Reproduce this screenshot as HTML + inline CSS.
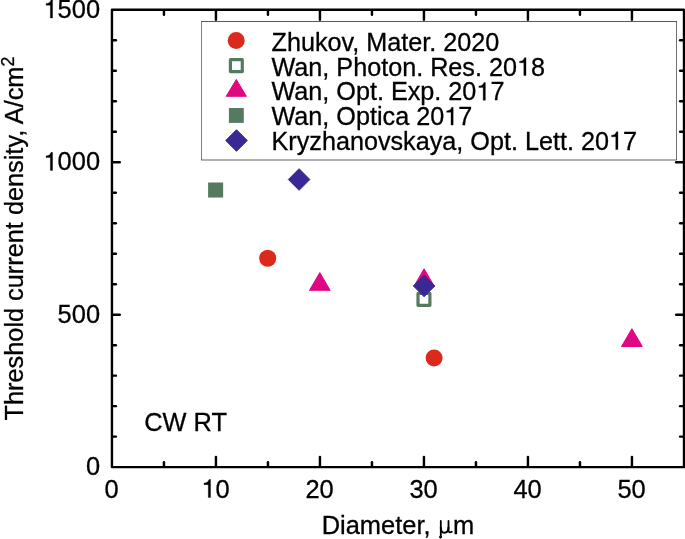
<!DOCTYPE html>
<html>
<head>
<meta charset="utf-8">
<title>Threshold current density vs diameter</title>
<style>
html,body{margin:0;padding:0;background:#fff;}
body{width:685px;height:539px;overflow:hidden;}
svg{display:block;will-change:transform;}
text{font-family:"Liberation Sans",sans-serif;font-size:25.2px;fill:#000;stroke:#000;stroke-width:0.3px;}
.tl text{font-size:25.45px;}
.h{fill:none;stroke:none;}
.ax{stroke:#000;stroke-width:2.4;fill:none;stroke-linejoin:round;}
.tk{stroke:#000;stroke-width:2.45;stroke-linecap:round;}
</style>
</head>
<body>
<svg width="685" height="539" viewBox="0 0 685 539">
<rect x="0" y="0" width="685" height="539" fill="#fff"/>

<!-- ticks -->
<g class="tk">
<line x1="163.95" y1="466.00" x2="163.95" y2="462.15"/>
<line x1="163.95" y1="10.90" x2="163.95" y2="14.75"/>
<line x1="215.95" y1="466.00" x2="215.95" y2="457.05"/>
<line x1="215.95" y1="10.90" x2="215.95" y2="19.85"/>
<line x1="267.95" y1="466.00" x2="267.95" y2="462.15"/>
<line x1="267.95" y1="10.90" x2="267.95" y2="14.75"/>
<line x1="319.95" y1="466.00" x2="319.95" y2="457.05"/>
<line x1="319.95" y1="10.90" x2="319.95" y2="19.85"/>
<line x1="371.95" y1="466.00" x2="371.95" y2="462.15"/>
<line x1="371.95" y1="10.90" x2="371.95" y2="14.75"/>
<line x1="423.95" y1="466.00" x2="423.95" y2="457.05"/>
<line x1="423.95" y1="10.90" x2="423.95" y2="19.85"/>
<line x1="475.95" y1="466.00" x2="475.95" y2="462.15"/>
<line x1="475.95" y1="10.90" x2="475.95" y2="14.75"/>
<line x1="527.95" y1="466.00" x2="527.95" y2="457.05"/>
<line x1="527.95" y1="10.90" x2="527.95" y2="19.85"/>
<line x1="579.95" y1="466.00" x2="579.95" y2="462.15"/>
<line x1="579.95" y1="10.90" x2="579.95" y2="14.75"/>
<line x1="631.95" y1="466.00" x2="631.95" y2="457.05"/>
<line x1="631.95" y1="10.90" x2="631.95" y2="19.85"/>
<line x1="113.05" y1="436.61" x2="115.85" y2="436.61"/>
<line x1="682.90" y1="436.61" x2="680.10" y2="436.61"/>
<line x1="113.05" y1="406.13" x2="115.85" y2="406.13"/>
<line x1="682.90" y1="406.13" x2="680.10" y2="406.13"/>
<line x1="113.05" y1="375.64" x2="115.85" y2="375.64"/>
<line x1="682.90" y1="375.64" x2="680.10" y2="375.64"/>
<line x1="113.05" y1="345.15" x2="115.85" y2="345.15"/>
<line x1="682.90" y1="345.15" x2="680.10" y2="345.15"/>
<line x1="113.05" y1="314.67" x2="119.75" y2="314.67"/>
<line x1="682.90" y1="314.67" x2="676.20" y2="314.67"/>
<line x1="113.05" y1="284.18" x2="115.85" y2="284.18"/>
<line x1="682.90" y1="284.18" x2="680.10" y2="284.18"/>
<line x1="113.05" y1="253.69" x2="115.85" y2="253.69"/>
<line x1="682.90" y1="253.69" x2="680.10" y2="253.69"/>
<line x1="113.05" y1="223.21" x2="115.85" y2="223.21"/>
<line x1="682.90" y1="223.21" x2="680.10" y2="223.21"/>
<line x1="113.05" y1="192.72" x2="115.85" y2="192.72"/>
<line x1="682.90" y1="192.72" x2="680.10" y2="192.72"/>
<line x1="113.05" y1="162.23" x2="119.75" y2="162.23"/>
<line x1="682.90" y1="162.23" x2="676.20" y2="162.23"/>
<line x1="113.05" y1="131.75" x2="115.85" y2="131.75"/>
<line x1="682.90" y1="131.75" x2="680.10" y2="131.75"/>
<line x1="113.05" y1="101.26" x2="115.85" y2="101.26"/>
<line x1="682.90" y1="101.26" x2="680.10" y2="101.26"/>
<line x1="113.05" y1="70.77" x2="115.85" y2="70.77"/>
<line x1="682.90" y1="70.77" x2="680.10" y2="70.77"/>
<line x1="113.05" y1="40.29" x2="115.85" y2="40.29"/>
<line x1="682.90" y1="40.29" x2="680.10" y2="40.29"/>
</g>

<!-- axes frame -->
<rect class="ax" x="111.95" y="9.8" width="572.05" height="457.3"/>

<!-- y tick labels -->
<g class="tl" text-anchor="end">
<text x="100.05" y="18"><tspan class="h">1</tspan>500</text>
<text x="100.05" y="170.4"><tspan class="h">1</tspan>000</text>
<text x="100.05" y="323">500</text>
<text x="100.05" y="475.2">0</text>
</g>
<!-- x tick labels -->
<g class="tl" text-anchor="middle">
<text x="111.55" y="497.5">0</text>
<text x="215.55" y="497.5"><tspan class="h">1</tspan>0</text>
<text x="319.55" y="497.5">20</text>
<text x="423.55" y="497.5">30</text>
<text x="527.55" y="497.5">40</text>
<text x="631.55" y="497.5">50</text>
</g>

<g id="ones-ticks">
<path d="M359 0 L271 0 L271 505 L102 505 L102 568 C226 584 246 601 301 709 L359 709 Z" transform="translate(43.44,18) scale(0.02545,-0.02545)" fill="#000" stroke="#000" stroke-width="12"/>
<path d="M359 0 L271 0 L271 505 L102 505 L102 568 C226 584 246 601 301 709 L359 709 Z" transform="translate(43.44,170.4) scale(0.02545,-0.02545)" fill="#000" stroke="#000" stroke-width="12"/>
<path d="M359 0 L271 0 L271 505 L102 505 L102 568 C226 584 246 601 301 709 L359 709 Z" transform="translate(201.4,497.5) scale(0.02545,-0.02545)" fill="#000" stroke="#000" stroke-width="12"/>
</g>
<!-- axis titles -->
<text x="321.7" y="533.5" style="font-size:25.45px">Diameter,</text>
<g fill="none" stroke="#000" stroke-linecap="round" stroke-linejoin="round">
<path d="M440.8 520.9 L440.8 536.2" stroke-width="1.8"/>
<path d="M440.8 527.5 C440.8 531.6 442.2 532.7 444.2 532.7 C446.4 532.7 448.5 531.2 448.5 527.5" stroke-width="2"/>
<path d="M448.5 520.9 L448.5 530.2 C448.5 532.3 450 532.9 451.8 531.7" stroke-width="1.8"/>
<ellipse cx="440.5" cy="537" rx="0.9" ry="1.3" fill="#000" stroke-width="0.8"/>
</g>
<text x="453" y="533.5" style="font-size:25.45px">m</text>
<text transform="translate(23.1,420.4) rotate(-90)" style="font-size:25.3px">Threshold current density, A/cm<tspan font-size="17.8" dy="-9.2">2</tspan></text>

<text x="144.2" y="431.2" style="font-size:25.4px">CW RT</text>

<!-- data points -->
<g>
<rect x="208.1" y="182.5" width="15.05" height="15.05" fill="#557a60"/>
<circle cx="267.7" cy="258.2" r="8.55" fill="#db291b"/>
<circle cx="434.1" cy="357.9" r="8.5" fill="#db291b"/>
<rect x="418" y="293.4" width="11.9" height="11.9" fill="none" stroke="#557a60" stroke-width="3.2" stroke-linejoin="round"/>
<g fill="#df0782" stroke="#df0782" stroke-width="1" stroke-linejoin="round">
<polygon points="319.8,272.6 330.1,290.3 309.5,290.3"/>
<polygon points="424.1,268.8 434.4,286.5 413.8,286.5"/>
<polygon points="631.9,328.7 642.3,346.5 621.5,346.5"/>
</g>
<g fill="#3a2995" stroke="#3a2995" stroke-width="1" stroke-linejoin="round">
<polygon points="299.1,168.7 309.9,179.5 299.1,190.3 288.3,179.5"/>
<polygon points="424.1,275.3 434.8,286 424.1,296.7 413.4,286"/>
</g>
</g>

<!-- legend -->
<rect x="201.5" y="21.5" width="475" height="138.5" fill="#fff"/>
<g stroke="#000" fill="none">
<path d="M201.2 21.5 L676.8 21.5" stroke-width="0.65"/>
<path d="M201.2 160 L676.8 160" stroke-width="0.62"/>
<path d="M201.5 21.5 L201.5 160" stroke-width="0.5"/>
<path d="M676.5 21.5 L676.5 160" stroke-width="0.56"/>
</g>
<circle cx="236.2" cy="40.5" r="8.5" fill="#db291b"/>
<rect x="230.4" y="59.7" width="11.9" height="11.9" fill="none" stroke="#557a60" stroke-width="3.2" stroke-linejoin="round"/>
<polygon points="236.3,79.5 246.4,96.3 226.2,96.3" fill="#df0782" stroke="#df0782" stroke-width="1" stroke-linejoin="round"/>
<rect x="228.9" y="108" width="14.9" height="14.9" fill="#557a60"/>
<polygon points="236.5,129.7 247.3,140.5 236.5,151.3 225.7,140.5" fill="#3a2995" stroke="#3a2995" stroke-width="1" stroke-linejoin="round"/>
<text x="271.5" y="50.7">Zhukov, Mater. 2020</text>
<text x="271.5" y="75.5">Wan, Photon. Res. 20<tspan class="h">1</tspan>8</text>
<text x="271.5" y="100.3">Wan, Opt. Exp. 20<tspan class="h">1</tspan>7</text>
<text x="271.5" y="125.1">Wan, Optica 20<tspan class="h">1</tspan>7</text>
<text x="271.5" y="149.6">Kryzhanovskaya, Opt. Lett. 20<tspan class="h">1</tspan>7</text>
<g id="ones-legend">
<path d="M359 0 L271 0 L271 505 L102 505 L102 568 C226 584 246 601 301 709 L359 709 Z" transform="translate(516.97,75.5) scale(0.0252,-0.0252)" fill="#000" stroke="#000" stroke-width="12"/>
<path d="M359 0 L271 0 L271 505 L102 505 L102 568 C226 584 246 601 301 709 L359 709 Z" transform="translate(476.34,100.3) scale(0.0252,-0.0252)" fill="#000" stroke="#000" stroke-width="12"/>
<path d="M359 0 L271 0 L271 505 L102 505 L102 568 C226 584 246 601 301 709 L359 709 Z" transform="translate(444.16,125.1) scale(0.0252,-0.0252)" fill="#000" stroke="#000" stroke-width="12"/>
<path d="M359 0 L271 0 L271 505 L102 505 L102 568 C226 584 246 601 301 709 L359 709 Z" transform="translate(608.91,149.6) scale(0.0252,-0.0252)" fill="#000" stroke="#000" stroke-width="12"/>
</g>
</svg>
</body>
</html>
